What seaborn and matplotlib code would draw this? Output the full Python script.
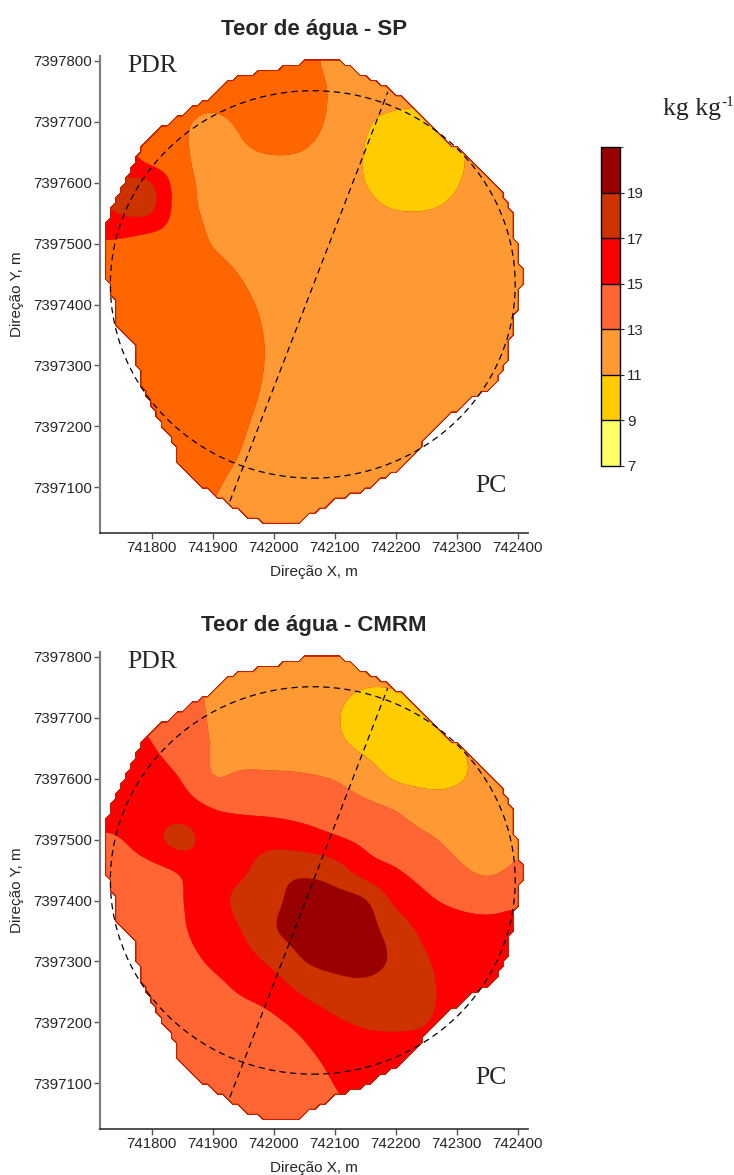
import numpy as np
import matplotlib
matplotlib.use("Agg")
import matplotlib.pyplot as plt
import seaborn as sns
from matplotlib.path import Path
from matplotlib.patches import Ellipse
from matplotlib.colors import ListedColormap, BoundaryNorm
from matplotlib.cm import ScalarMappable

# ---------------------------------------------------------------- data
# grid nodes (UTM, m): columns west->east, rows north->south
x_nodes = np.arange(741700, 742451, 50)
y_nodes = np.arange(7397850, 7396999, -50)

# water content (kg kg-1) at the grid nodes, sistema SP
sp_grid = [
    [14, 14, 14, 14, 14, 14, 14, 13.52, 12.5, 12, 12, 12, 12, 12, 12, 12],
    [14, 14, 14, 14, 14, 14, 14, 13.52, 12.52, 12, 11.92, 11.92, 12, 12, 12, 12],
    [14, 14, 14, 13.9, 13.68, 14, 14, 13.74, 12.74, 11.6, 11.35, 11.34, 11.56, 11.93, 12, 12],
    [14, 14, 14, 13.22, 12.68, 13.3, 14, 13.6, 12.6, 11.16, 10.8, 10.78, 11.12, 11.6, 12, 12],
    [16, 16, 13.4, 13.24, 12.24, 12.8, 13.12, 12.95, 12.2, 10.92, 10.36, 10.3, 10.85, 11.43, 12, 12],
    [16.5, 17.15, 17.15, 13.6, 12.6, 12, 12, 12, 11.55, 11.0, 10.53, 10.5, 10.94, 11.48, 12, 12],
    [16.5, 17.15, 17.15, 13.7, 12.7, 12, 12, 12, 11.8, 11.36, 11.06, 11.05, 11.31, 11.74, 12, 12],
    [14.8, 14.6, 13.9, 13.9, 12.9, 12, 12, 12, 12, 12, 12, 12, 12, 12, 12, 12],
    [14, 14, 14, 14, 13.84, 12.84, 12, 12, 12, 12, 12, 12, 12, 12, 12, 12],
    [14, 14, 14, 14, 14, 13.4, 12.4, 12, 12, 12, 12, 12, 12, 12, 12, 12],
    [14, 14, 14, 14, 14, 13.66, 12.66, 12, 12, 12, 12, 12, 12, 12, 12, 12],
    [14, 14, 14, 14, 14, 13.68, 12.68, 12, 12, 12, 12, 12, 12, 12, 12, 12],
    [14, 14, 14, 14, 14, 13.5, 12.5, 12, 12, 12, 12, 12, 12, 12, 12, 12],
    [14, 14, 14, 14, 14, 13.18, 12.18, 12, 12, 12, 12, 12, 12, 12, 12, 12],
    [14, 14, 14, 14, 13.82, 12.82, 12, 12, 12, 12, 12, 12, 12, 12, 12, 12],
    [14, 14, 14, 14, 13.26, 12.26, 12, 12, 12, 12, 12, 12, 12, 12, 12, 12],
    [14, 14, 14, 13.9, 12.9, 12, 12, 12, 12, 12, 12, 12, 12, 12, 12, 12],
    [14, 14, 14, 13.9, 12.9, 12, 12, 12, 12, 12, 12, 12, 12, 12, 12, 12],
]

# water content (kg kg-1) at the grid nodes, sistema CMRM
cmrm_grid = [
    [14, 14, 14, 13.7, 12.7, 12, 12, 12, 12, 12, 12, 12, 12, 12, 12, 12],
    [14, 14, 14, 13.7, 12.7, 12, 12, 12, 11.9, 11.85, 12, 12, 12, 12, 12, 12],
    [14, 14, 14, 13.68, 12.68, 12, 12, 11.95, 11.34, 11.0, 11.04, 11.47, 12, 12, 12, 12],
    [15, 15, 14.6, 13.8, 12.8, 12, 12, 11.92, 11.1, 10.63, 10.44, 10.72, 11.28, 12, 12, 12],
    [16, 15.8, 15.1, 14.14, 12.9, 12.2, 12, 12, 11.4, 10.73, 10.23, 10.33, 10.83, 11.57, 12, 12],
    [16, 16, 15.7, 14.92, 13.0, 13.4, 13.41, 13.25, 12.95, 12.0, 10.8, 10.65, 10.85, 11.42, 12, 12],
    [16, 15.9, 16.18, 15.93, 15.06, 14.73, 14.57, 14.34, 14.0, 13.55, 12.95, 11.88, 11.67, 12, 12, 12],
    [14.6, 14.95, 16.3, 17.85, 15.9, 16.14, 16.3, 15.9, 15.25, 14.63, 14.05, 13.35, 12.46, 12.1, 12.62, 12.5],
    [14, 14.1, 14.5, 15.2, 16.38, 16.7, 18.3, 18.6, 17.93, 15.9, 15.1, 14.34, 13.37, 12.66, 13.3, 13.5],
    [14, 14, 14, 14.95, 16.27, 17.56, 18.6, 19.77, 19.74, 19.25, 16.49, 15.29, 14.64, 14.4, 14.72, 14.5],
    [14, 14, 14, 14.82, 15.93, 17.06, 18.9, 19.73, 20.34, 19.63, 18.24, 16.41, 15.76, 15.53, 15.6, 15.6],
    [14, 14, 14, 14.44, 15.27, 16.25, 17.41, 19.02, 19.5, 19.45, 18.74, 17.16, 16.2, 16.0, 16, 16],
    [14, 14, 14, 14, 14.4, 15.21, 15.91, 17.28, 18.16, 18.51, 18.11, 17.33, 16.4, 16, 16, 16],
    [14, 14, 14, 14, 14, 14.1, 14.7, 15.58, 16.67, 17.26, 17.32, 17.06, 16.3, 16, 16, 16],
    [14, 14, 14, 14, 14, 14, 14.0, 14.7, 15.61, 16.14, 16.3, 16.3, 16, 16, 16, 16],
    [14, 14, 14, 14, 14, 14, 14, 14.2, 15.05, 15.9, 16, 16, 16, 16, 16, 16],
    [14, 14, 14, 14, 14, 14, 14, 14, 14.55, 15.6, 16, 16, 16, 16, 16, 16],
    [14, 14, 14, 14, 14, 14, 14, 14, 14.55, 15.6, 16, 16, 16, 16, 16, 16],
]

# outline of the sampled field
boundary_x = [742046, 742112, 742145, 742179, 742207, 742235, 742278, 742310, 742343,
              742376, 742392, 742400, 742409, 742409, 742400, 742392, 742387, 742376,
              742366, 742333, 742310, 742273, 742235, 742207, 742153, 742097, 742043,
              742024, 741989, 741956, 741928, 741907, 741879, 741866, 741850, 741835,
              741833, 741819, 741802, 741792, 741778, 741769, 741745, 741740, 741732,
              741722, 741722, 741732, 741756, 741778, 741814, 741863, 741896, 741928,
              741969, 742005]
boundary_y = [7397800, 7397800, 7397780, 7397761, 7397744, 7397716, 7397675, 7397654,
              7397616, 7397583, 7397550, 7397506, 7397462, 7397429, 7397391, 7397347,
              7397314, 7397293, 7397265, 7397248, 7397230, 7397206, 7397156, 7397128,
              7397096, 7397074, 7397041, 7397035, 7397035, 7397051, 7397066, 7397084,
              7397100, 7397112, 7397125, 7397150, 7397178, 7397194, 7397222, 7397243,
              7397276, 7397337, 7397358, 7397370, 7397424, 7397444, 7397526, 7397560,
              7397605, 7397654, 7397690, 7397724, 7397741, 7397772, 7397784, 7397790]

# transect and reference ellipse
transect_x = [741928, 742187]
transect_y = [7397077, 7397749]
ring_center = (742064, 7397433)
ring_width, ring_height = 664, 636

levels = [7, 9, 11, 13, 15, 17, 19, 21]
tick_values = [7, 9, 11, 13, 15, 17, 19]
colors_scale = ["#FFFF66", "#FFCC00", "#FF9933", "#FF6633", "#FF0000", "#CC3300", "#990000"]
colors_sp = ["#FFFF66", "#FFCC00", "#FF9933", "#FF6600", "#FF0000", "#CC3300", "#990000"]

# ---------------------------------------------------------------- style
sns.set_style("ticks")
plt.rcParams["font.family"] = ["Liberation Sans", "DejaVu Sans"]
SERIF = ["Liberation Serif", "DejaVu Serif"]


def catmull_rom(n, factor):
    """Weights that refine n nodes to (n-1)*factor+1 points."""
    m = (n - 1) * factor + 1
    W = np.zeros((m, n))
    for k in range(m):
        t = k / factor
        i = min(int(np.floor(t)), n - 2)
        f = t - i
        w = [0.5 * (-f + 2 * f**2 - f**3),
             0.5 * (2 - 5 * f**2 + 3 * f**3),
             0.5 * (f + 4 * f**2 - 3 * f**3),
             0.5 * (-f**2 + f**3)]
        for j, wj in zip(range(i - 1, i + 3), w):
            W[k, min(max(j, 0), n - 1)] += wj
    return W


def smooth(Z, sigma):
    """Separable gaussian smoothing (sigma in cells), edges held."""
    r = int(3 * sigma) + 1
    k = np.exp(-0.5 * (np.arange(-r, r + 1) / sigma) ** 2)
    k /= k.sum()
    P = np.pad(Z, r, mode="edge")
    P = np.apply_along_axis(lambda v: np.convolve(v, k, mode="valid"), 1, P)
    P = np.apply_along_axis(lambda v: np.convolve(v, k, mode="valid"), 0, P)
    return P


FACTOR = 6
STEP = 50 / FACTOR
Wx = catmull_rom(len(x_nodes), FACTOR)
Wy = catmull_rom(len(y_nodes), FACTOR)
xf = np.linspace(x_nodes[0], x_nodes[-1], Wx.shape[0])
yf = np.linspace(y_nodes[0], y_nodes[-1], Wy.shape[0])
XX, YY = np.meshgrid(xf, yf)
outline = Path(np.column_stack([boundary_x, boundary_y]))
inside = outline.contains_points(np.column_stack([XX.ravel(), YY.ravel()])).reshape(XX.shape)

fig = plt.figure(figsize=(7.34, 11.75), dpi=100)


def px_axes(left, top, width, height):
    return fig.add_axes([left / 734, 1 - (top + height) / 1175, width / 734, height / 1175])


def draw_map(ax, grid, colors, title, pc_y):
    Z = smooth(Wy @ np.asarray(grid, dtype=float) @ Wx.T, 9 / STEP)
    Zm = np.ma.array(Z, mask=~inside)
    # thin dark rim round the mapped area
    ax.contourf(XX, YY, inside.astype(float), levels=[0.82, 2], colors=["#C42000"], zorder=0.8)
    ax.contourf(XX, YY, Zm, levels=levels, colors=colors, antialiased=True, zorder=1)
    sns.lineplot(x=transect_x, y=transect_y, ax=ax, color="black", lw=0.9,
                 linestyle=(0, (5, 3.5)), legend=False, sort=False, zorder=3)
    ax.add_patch(Ellipse(ring_center, ring_width, ring_height, fill=False, ec="black",
                         lw=0.9, ls=(0, (5, 3.5)), zorder=3))
    ax.set_xlim(741715, 742417)
    ax.set_ylim(7397025, 7397808)
    ax.set_xticks(range(741800, 742401, 100))
    ax.set_yticks(range(7397100, 7397801, 100))
    ax.ticklabel_format(useOffset=False, style="plain")
    ax.tick_params(labelsize=10.8, length=4, width=1, color="#555555", pad=2)
    for s in ("top", "right"):
        ax.spines[s].set_visible(False)
    ax.spines["left"].set_color("#808080")
    ax.spines["left"].set_linewidth(1.6)
    ax.spines["bottom"].set_color("#333333")
    ax.spines["bottom"].set_linewidth(1.2)
    ax.set_xlabel("Direção X, m", fontsize=11, labelpad=7)
    ax.set_ylabel("Direção Y, m", fontsize=11, labelpad=6)
    ax.set_title(title, fontsize=16, fontweight="bold", pad=15)
    ax.text(0.063, 1.003, "PDR", transform=ax.transAxes, fontsize=18.5, family=SERIF,
            va="top", ha="left")
    ax.text(0.876, pc_y, "PC", transform=ax.transAxes, fontsize=18.5, family=SERIF,
            va="baseline", ha="left")


ax1 = px_axes(100, 56, 428, 477)
draw_map(ax1, sp_grid, colors_sp, "Teor de água - SP", 0.086)
ax2 = px_axes(100, 652, 428, 477)
draw_map(ax2, cmrm_grid, colors_scale, "Teor de água - CMRM", 0.095)

# colour scale
cax = px_axes(601, 147, 19, 319)
sm = ScalarMappable(norm=BoundaryNorm(levels, len(colors_scale)), cmap=ListedColormap(colors_scale))
cb = fig.colorbar(sm, cax=cax, ticks=tick_values, drawedges=True)
cb.outline.set_edgecolor("black")
cb.outline.set_linewidth(1.0)
cb.dividers.set_color("black")
cb.dividers.set_linewidth(1.0)
cax.tick_params(labelsize=10.8, length=3, width=0.8, pad=2)
fig.text(663 / 734, 1 - 115 / 1175, "kg kg", family=SERIF, fontsize=18.5,
         ha="left", va="baseline")
fig.text(721 / 734, 1 - 106 / 1175, "-1", family=SERIF, fontsize=11,
         ha="left", va="baseline")

fig.savefig("out.png", dpi=100)
